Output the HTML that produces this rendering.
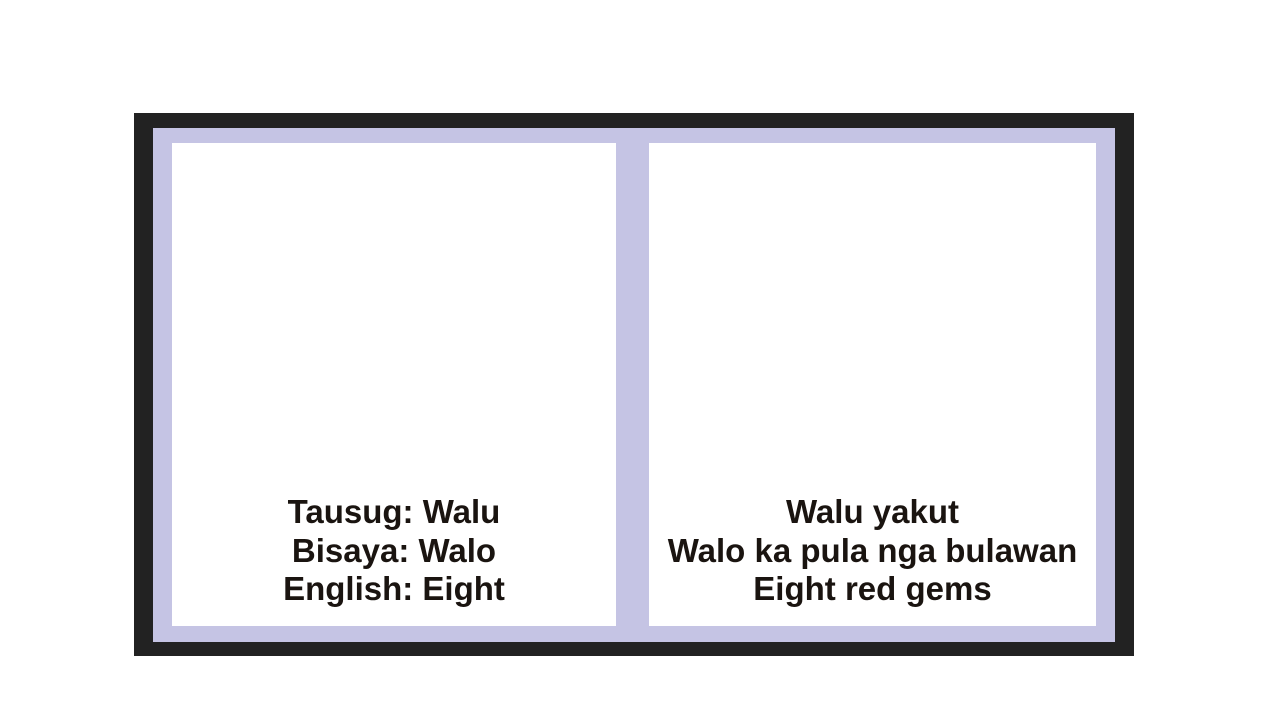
<!DOCTYPE html>
<html><head><style>
body{margin:0;width:1280px;height:720px;background:#fff;position:relative;overflow:hidden;font-family:"Liberation Sans",sans-serif}
div{position:absolute}
.t{font-weight:bold;font-size:33px;color:#1a1410;text-align:center;line-height:38.5px}
</style></head><body>
<div style="left:134px;top:113px;width:1000px;height:543px;background:#222"></div>
<div style="left:153px;top:128px;width:962px;height:514px;background:#c5c4e4"></div>
<div style="left:172px;top:143px;width:444px;height:483px;background:#fff"></div>
<div style="left:649px;top:143px;width:447px;height:483px;background:#fff"></div>
<div class="t" style="left:172px;top:493px;width:444px">Tausug: Walu<br>Bisaya: Walo<br>English: Eight</div>
<div class="t" style="left:649px;top:493px;width:447px">Walu yakut<br>Walo ka pula nga bulawan<br>Eight red gems</div>
</body></html>
